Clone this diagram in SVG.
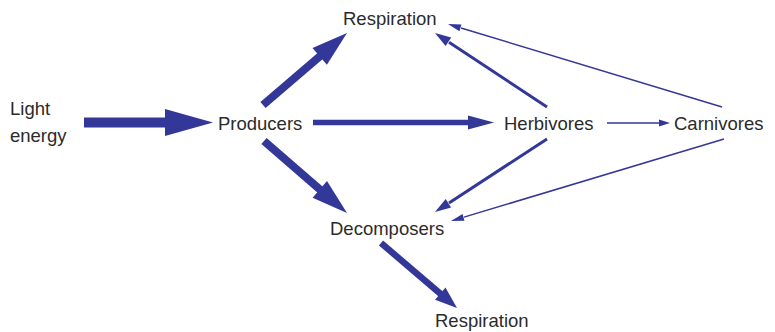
<svg xmlns="http://www.w3.org/2000/svg" width="775" height="332" viewBox="0 0 775 332">
  <style>
    .lbl { font-family: "Liberation Sans", Arial, sans-serif; font-size: 18.5px; fill: #2b2b2b; }
    .shaft { stroke: #333798; fill: none; stroke-linecap: butt; }
    .head { fill: #333798; stroke: none; }
  </style>
  <rect width="775" height="332" fill="#ffffff"/>

  <g id="connectors">
    <!-- Light energy -> Producers -->
    <rect class="head" x="84" y="117.5" width="82" height="10"/>
    <polygon class="head" points="165,109 213,122.5 165,136"/>
    <!-- Producers -> Herbivores -->
    <line class="shaft" x1="313" y1="122.5" x2="469" y2="122.5" stroke-width="5.5"/>
    <polygon class="head" points="468,115.5 494,122.5 468,129.5"/>
    <!-- Herbivores -> Carnivores -->
    <line class="shaft" x1="607" y1="123" x2="660" y2="123" stroke-width="1.5"/>
    <polygon class="head" points="659,119.5 670,123 659,126.5"/>
    <!-- Producers -> Respiration -->
    <line class="shaft" x1="263" y1="105" x2="320.5" y2="55.7" stroke-width="8"/>
    <polygon class="head" points="326.9,64.8 347,33 312.5,48"/>
    <!-- Producers -> Decomposers -->
    <line class="shaft" x1="264" y1="141" x2="320.5" y2="190" stroke-width="8"/>
    <polygon class="head" points="312.6,197.7 347,213 327,181.1"/>
    <!-- Decomposers -> Respiration -->
    <line class="shaft" x1="381" y1="243" x2="441" y2="294.3" stroke-width="6.5"/>
    <polygon class="head" points="435.1,299.8 457,308 445.5,287.6"/>
    <!-- Herbivores -> Respiration -->
    <line class="shaft" x1="547" y1="107" x2="449" y2="42.2" stroke-width="3"/>
    <polygon class="head" points="451.2,37.6 435,33 445.6,46"/>
    <!-- Carnivores -> Respiration -->
    <line class="shaft" x1="722" y1="107" x2="461" y2="28" stroke-width="1.5"/>
    <polygon class="head" points="461.4,24.5 448,24 459.4,31.2"/>
    <!-- Herbivores -> Decomposers -->
    <line class="shaft" x1="547" y1="139" x2="449" y2="202.9" stroke-width="3"/>
    <polygon class="head" points="451.1,207.5 435,212 445.7,199.1"/>
    <!-- Carnivores -> Decomposers -->
    <line class="shaft" x1="724" y1="139" x2="464" y2="217.1" stroke-width="1.5"/>
    <polygon class="head" points="464.5,220.7 451,221 462.5,213.9"/>
  </g>

  <g id="light-energy">
    <text class="lbl" x="10" y="115">Light</text>
    <text class="lbl" x="10" y="142">energy</text>
  </g>
  <g id="producers">
    <text class="lbl" x="218" y="129.5">Producers</text>
  </g>
  <g id="respiration-top">
    <text class="lbl" x="343" y="25">Respiration</text>
  </g>
  <g id="herbivores">
    <text class="lbl" x="504" y="129.5">Herbivores</text>
  </g>
  <g id="carnivores">
    <text class="lbl" x="674" y="129.5">Carnivores</text>
  </g>
  <g id="decomposers">
    <text class="lbl" x="330" y="235">Decomposers</text>
  </g>
  <g id="respiration-bottom">
    <text class="lbl" x="435" y="327">Respiration</text>
  </g>
</svg>
